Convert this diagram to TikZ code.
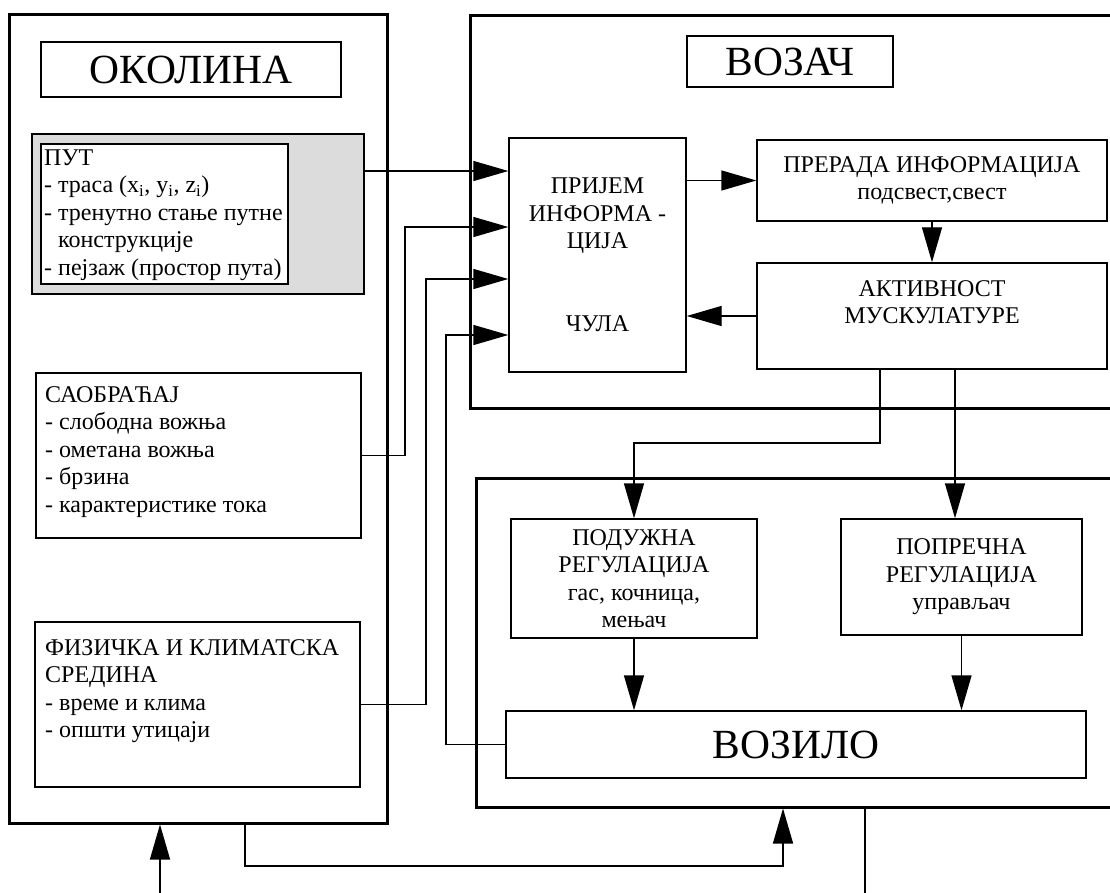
\documentclass[tikz,border=0pt]{standalone}
\usepackage{fontspec}
\setmainfont{Liberation Serif}
\usetikzlibrary{arrows.meta}
\definecolor{pathgray}{RGB}{220,220,220}
\newcommand{\bodyfont}{\fontsize{24}{27.5}\selectfont}
\newcommand{\titlefont}{\fontsize{41.5}{46}\selectfont}
\begin{document}
\begin{tikzpicture}[x=1pt,y=-1pt,
    box/.style={draw, line width=1.4pt, inner sep=0pt},
    outerbox/.style={draw, line width=3pt, inner sep=0pt},
    txt/.style={align=left, inner sep=0pt, anchor=north west, font=\bodyfont},
    ctxt/.style={align=center, font=\bodyfont},
    line/.style={line width=1.4pt},
    arr/.style={line width=1.4pt, -{Triangle[length=35pt,width=20pt]}}]
    \path[use as bounding box] (0,0) rectangle (1110,893);
    \clip (0,0) rectangle (1110,893);

    \node[outerbox, minimum width=378, minimum height=808] (env) at (198,419) {};
    \node[box, minimum width=300, minimum height=55, font=\titlefont] (envT) at (191,69.5) {ОКОЛИНА};
    \node[box, fill=pathgray, minimum width=332, minimum height=160] (put) at (198,214) {};
    \node[box, fill=white, minimum width=247, minimum height=140] (putin) at (164.5,214) {};
    \node[txt] (putT) at (44,149.5) {ПУТ\\- траса (x\textsubscript{i}, y\textsubscript{i}, z\textsubscript{i})\\- тренутно стање путне\\\phantom{-}~конструкције\\- пејзаж (простор пута)};
    \node[box, minimum width=325, minimum height=165] (traffic) at (198.5,455.5) {};
    \node[txt] (trafficT) at (45,386) {САОБРАЋАЈ\\- слободна вожња\\- ометана вожња\\- брзина\\- карактеристике тока};
    \node[box, minimum width=325, minimum height=165] (climate) at (197.5,704.5) {};
    \node[txt] (climateT) at (45,639) {ФИЗИЧКА И КЛИМАТСКА\\СРЕДИНА\\- време и клима\\- општи утицаји};

    \node[outerbox, minimum width=660, minimum height=392] (driver) at (800,212) {};
    \node[box, minimum width=206, minimum height=51, font=\titlefont] (driverT) at (790,61.5) {ВОЗАЧ};
    \node[box, ctxt, minimum width=177, minimum height=234] (prijem) at (597.5,255) {ПРИЈЕМ\\ИНФОРМА -\\ЦИЈА\\[55pt]ЧУЛА};
    \node[box, ctxt, minimum width=350, minimum height=81] (prerada) at (932,180.5) {ПРЕРАДА ИНФОРМАЦИЈА\\подсвест,свест};
    \node[box, ctxt, minimum width=350, minimum height=106] (aktiv) at (932,316) {АКТИВНОСТ\\МУСКУЛАТУРЕ\\\mbox{}};

    \node[outerbox, minimum width=654, minimum height=329] (vehbox) at (803,642.5) {};
    \node[box, ctxt, minimum width=246, minimum height=119] (podu) at (634,578.5) {ПОДУЖНА\\РЕГУЛАЦИЈА\\гас, кочница,\\мењач};
    \node[box, ctxt, minimum width=241, minimum height=116] (popr) at (961.5,577) {ПОПРЕЧНА\\РЕГУЛАЦИЈА\\управљач};
    \node[box, minimum width=580, minimum height=67, font=\titlefont] (vozilo) at (796,744.5) {ВОЗИЛО};

    \coordinate (k1) at (400,171);
    \coordinate (k2) at (405,227);
    \coordinate (k3) at (426,279);
    \coordinate (k4) at (446,335);
    \coordinate (k5) at (880,443);
    \coordinate (k6) at (955,443);
    \coordinate (k7) at (245,866);
    \coordinate (k8) at (783,866);
    \coordinate (k9) at (160,893);
    \coordinate (k10) at (865,893);

    \draw[arr] (put.east |- k1) -- (prijem.west |- k1);
    \draw[arr] (traffic.east) -| (k2) -- (prijem.west |- k2);
    \draw[arr] (climate.east) -| (k3) -- (prijem.west |- k3);
    \draw[arr] (vozilo.west) -| (k4) -- (prijem.west |- k4);
    \draw[arr] (prijem.east |- prerada.west) -- (prerada.west);
    \draw[arr] (prerada.south) -- (aktiv.north);
    \draw[arr] (aktiv.west) -- (prijem.east |- aktiv.west);
    \draw[arr] (aktiv.south -| k5) -- (k5) -| (podu.north);
    \draw[arr] (aktiv.south -| k6) -- (popr.north -| k6);
    \draw[arr] (podu.south) -- (vozilo.north -| podu.south);
    \draw[arr] (popr.south) -- (vozilo.north -| popr.south);
    \draw[arr] (env.south -| k7) -- (k7) -- (k8) -- (vehbox.south -| k8);
    \draw[arr] (k9) -- (env.south -| k9);
    \draw[line] (vehbox.south -| k10) -- (k10);
\end{tikzpicture}
\end{document}
